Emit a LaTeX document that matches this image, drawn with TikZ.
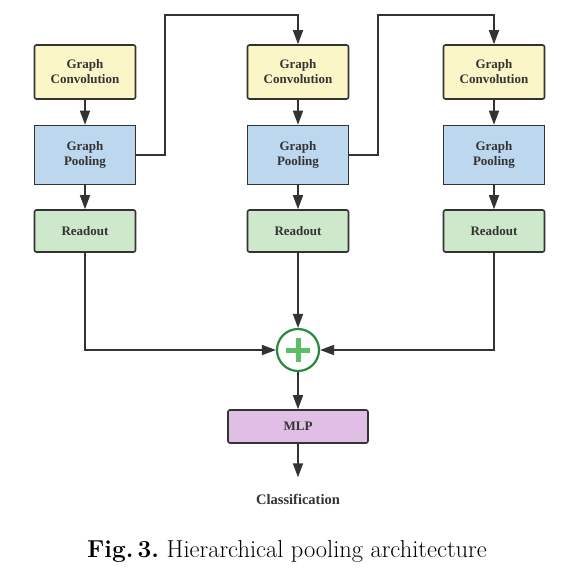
\documentclass[tikz,border=0pt]{standalone}
\usepackage{fontspec}
\usepackage{tikz}
\usetikzlibrary{arrows.meta}
\newfontfamily\boxfont{Liberation Serif}
\definecolor{convyellow}{HTML}{FAF6C7}
\definecolor{poolblue}{HTML}{BDD7EE}
\definecolor{readgreen}{HTML}{CDE8CB}
\definecolor{mlppurple}{HTML}{E1BEE6}
\definecolor{linegray}{HTML}{333333}
\definecolor{plusdark}{HTML}{27893E}
\definecolor{pluslight}{HTML}{5CBF68}

\begin{document}
\begin{tikzpicture}[x=1pt,y=-1pt]
\useasboundingbox (0,0) rectangle (562,574);
\begin{scope}[every node/.style={draw=linegray,line width=1.6pt,rounded corners=2pt,minimum width=101pt,
              text=linegray,align=center,font=\boxfont\bfseries\fontsize{13}{15}\selectfont}]
    \node (C1)[fill=convyellow,minimum height=54pt] at (85,72) {Graph\\Convolution};
    \node (C2)[fill=convyellow,minimum height=54pt] at (298,72) {Graph\\Convolution};
    \node (C3)[fill=convyellow,minimum height=54pt] at (494,72) {Graph\\Convolution};
    \node (P1)[fill=poolblue,sharp corners,minimum height=59pt] at (85,155) {Graph\\Pooling};
    \node (P2)[fill=poolblue,sharp corners,minimum height=59pt] at (298,155) {Graph\\Pooling};
    \node (P3)[fill=poolblue,sharp corners,minimum height=59pt] at (494,155) {Graph\\Pooling};
    \node (R1)[fill=readgreen,minimum height=42pt] at (85,231) {Readout};
    \node (R2)[fill=readgreen,minimum height=42pt] at (298,231) {Readout};
    \node (R3)[fill=readgreen,minimum height=42pt] at (494,231) {Readout};
    \node (M)[fill=mlppurple,minimum width=140pt,minimum height=33pt] at (298,426.5) {MLP};
\end{scope}

\node (plus)[circle,draw=plusdark,line width=2.2pt,fill=white,minimum size=42pt,inner sep=0pt] at (298,350) {};
\draw[pluslight,line width=5pt] ([xshift=-12pt]plus.center) -- ([xshift=12pt]plus.center);
\draw[pluslight,line width=5pt] ([yshift=-12pt]plus.center) -- ([yshift=12pt]plus.center);

\node (cls)[text=linegray,font=\boxfont\bfseries\fontsize{14.5}{16}\selectfont] at (298,499) {Classification};
\node (cap) at (287,551) {\fontsize{24.5}{28}\selectfont\textbf{Fig.\,3.}\ Hierarchical pooling architecture};

\begin{scope}[every path/.style={draw=linegray,line width=1.6pt,-{Triangle[length=14pt,width=10pt]}}]
    \path (C1) -- (P1);
    \path (P1) -- (R1);
    \path (C2) -- (P2);
    \path (P2) -- (R2);
    \path (C3) -- (P3);
    \path (P3) -- (R3);
    \path (P1.east) -| (165,15) -| (C2.north);
    \path (P2.east) -| (378,15) -| (C3.north);
    \path (R1.south) |- (plus.west);
    \path (R2) -- (plus);
    \path (R3.south) |- (plus.east);
    \path (plus) -- (M);
    \path[shorten >=13pt] (M) -- (cls);
\end{scope}
\end{tikzpicture}
\end{document}
